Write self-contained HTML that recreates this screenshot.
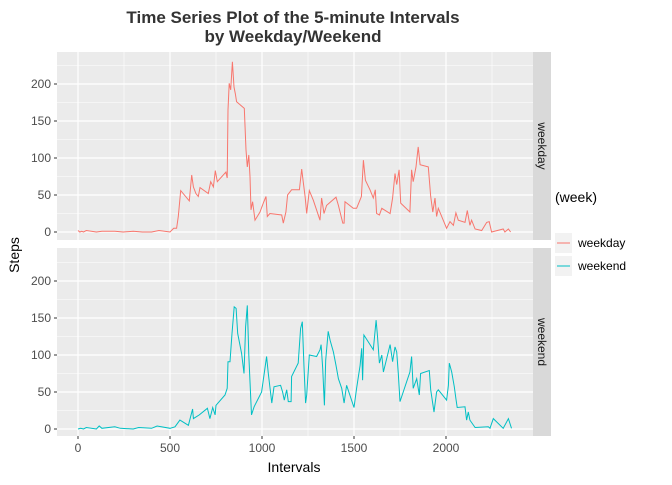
<!DOCTYPE html>
<html><head><meta charset="utf-8">
<style>
body{margin:0;background:#fff;font-family:"Liberation Sans",sans-serif;}
svg text{font-family:"Liberation Sans",sans-serif;}
</style></head>
<body>
<svg id="chart" width="672" height="480" xmlns="http://www.w3.org/2000/svg">
<text x="293" y="23" text-anchor="middle" font-size="17" font-weight="bold" fill="#333">Time Series Plot of the 5-minute Intervals</text>
<text x="293" y="42" text-anchor="middle" font-size="17" font-weight="bold" fill="#333">by Weekday/Weekend</text>
<text transform="translate(19,255) rotate(-90)" text-anchor="middle" font-size="14" fill="#000">Steps</text>
<text x="294" y="472" text-anchor="middle" font-size="14" fill="#000">Intervals</text>
<g id="panels"></g>
<g>
<text x="555" y="202" font-size="14" fill="#000">(week)</text>
<g>
<rect x="555" y="233" width="17" height="20" fill="#f2f2f2"/>
<line x1="557" y1="243" x2="570" y2="243" stroke="#F8766D" stroke-width="1"/>
<text x="578" y="247" font-size="12" fill="#000">weekday</text></g>
<g>
<rect x="555" y="256" width="17" height="20" fill="#f2f2f2"/>
<line x1="557" y1="266" x2="570" y2="266" stroke="#00BFC4" stroke-width="1"/>
<text x="578" y="270" font-size="12" fill="#000">weekend</text></g>
</g>
</svg>
<script>
const xTicks=[0,500,1000,1500,2000];
const yTicks=[0,50,100,150,200];
const panelNames=["weekday","weekend"];
const wdX=[0,10,20,30,45,100,130,200,245,300,350,400,440,500,520,536,545,558,605,618,627,641,654,663,708,721,736,746,757,804,811,815,822,830,839,848,855,862,904,913,920,928,935,940,949,962,989,1007,1022,1029,1043,1107,1116,1130,1139,1161,1203,1216,1225,1234,1243,1257,1279,1315,1324,1337,1351,1402,1415,1439,1446,1451,1496,1514,1529,1540,1551,1562,1587,1605,1616,1623,1638,1651,1696,1710,1723,1732,1745,1754,1804,1813,1822,1837,1849,1859,1904,1917,1928,1940,1949,1958,2003,2022,2040,2054,2067,2103,2116,2130,2139,2158,2194,2221,2235,2248,2311,2320,2339,2351];
const wdY=[2,0,1,0,2,0,1,1,0,1,0,0,2,0,5,5,21,56,42,77,61,52,48,60,52,68,61,83,68,81,73,165,201,192,230,196,187,176,167,111,88,104,75,30,41,16,27,39,48,21,25,23,12,27,50,57,57,85,66,48,25,56,43,16,46,25,36,47,36,12,12,41,32,32,41,48,97,70,57,46,57,25,23,32,25,46,79,64,84,39,27,84,68,88,115,91,88,48,27,46,21,32,5,14,9,26,16,13,29,9,16,4,2,13,14,0,4,0,4,0];
const weX=[0,15,30,45,100,115,130,200,230,300,330,400,430,500,527,554,600,623,627,659,703,717,732,745,750,799,811,815,826,837,849,859,868,889,902,911,920,928,943,957,998,1025,1034,1053,1065,1101,1112,1121,1134,1143,1158,1161,1197,1210,1219,1228,1237,1243,1257,1297,1315,1321,1330,1339,1346,1360,1370,1388,1402,1415,1433,1446,1460,1500,1514,1533,1542,1547,1554,1605,1620,1627,1638,1651,1660,1696,1710,1723,1732,1741,1750,1804,1813,1822,1841,1855,1862,1909,1917,1935,1949,1958,2003,2013,2018,2031,2045,2054,2061,2103,2112,2121,2130,2158,2230,2239,2257,2311,2339,2356];
const weY=[0,1,0,2,0,4,1,3,1,0,2,1,4,1,3,12,5,27,14,19,28,14,29,19,32,46,55,91,91,129,165,163,129,102,75,138,167,100,19,30,50,98,75,35,57,59,50,39,53,37,37,71,89,136,145,84,35,46,100,98,107,114,82,32,93,132,120,104,86,68,55,35,59,29,55,86,109,66,127,107,147,127,89,100,77,114,91,111,104,75,37,77,98,55,68,46,75,79,53,23,50,53,39,59,89,77,57,41,29,30,12,23,12,2,3,1,14,1,14,1];
const NS="http://www.w3.org/2000/svg";
const L=57,R=533;
const xS=v=>78+v*0.184;
const panels=[{top:52,bot:240,zero:232,x:wdX,y:wdY,c:"#F8766D"},{top:248,bot:436,zero:429,x:weX,y:weY,c:"#00BFC4"}];
const g=document.getElementById("panels");
function mk(t,a){const e=document.createElementNS(NS,t);for(const k in a)e.setAttribute(k,a[k]);return e;}
panels.forEach((p,i)=>{
  const yS=v=>p.zero-v*0.74;
  const pg=mk("g",{});
  
  
  pg.appendChild(mk("rect",{x:L,y:p.top,width:R-L,height:p.bot-p.top,fill:"#ebebeb"}));
  for(let k=0;k<yTicks.length;k++){
    const v=yTicks[k]+25,yy=yS(v);
    if(yy>p.top)pg.appendChild(mk("line",{x1:L,x2:R,y1:yy,y2:yy,stroke:"#fff","stroke-width":0.6}));
  }
  for(let k=0;k<xTicks.length;k++){
    const xx=xS(xTicks[k]+250);
    if(xx<R)pg.appendChild(mk("line",{x1:xx,x2:xx,y1:p.top,y2:p.bot,stroke:"#fff","stroke-width":0.6}));
  }
  yTicks.forEach(v=>{const yy=yS(v);
    pg.appendChild(mk("line",{x1:L,x2:R,y1:yy,y2:yy,stroke:"#fff","stroke-width":1.2}));
    pg.appendChild(mk("line",{x1:54,x2:57,y1:yy,y2:yy,stroke:"#333","stroke-width":1}));
    const t=mk("text",{x:51,y:yy+4,"text-anchor":"end","font-size":12,fill:"#4d4d4d"});
    
    
    t.textContent=v;pg.appendChild(t);});
  xTicks.forEach(v=>{const xx=xS(v);
    pg.appendChild(mk("line",{x1:xx,x2:xx,y1:p.top,y2:p.bot,stroke:"#fff","stroke-width":1.2}));});
  let d="";
  p.x.forEach((xv,j)=>{d+=(j?"L":"M")+xS(xv).toFixed(1)+","+yS(p.y[j]).toFixed(1);});
  const path=mk("path",{d:d,fill:"none",stroke:p.c,"stroke-width":1});
  
  
  pg.appendChild(path);
  const st=mk("rect",{x:R,y:p.top,width:18,height:p.bot-p.top,fill:"#d9d9d9"});
  
  
  pg.appendChild(st);
  const my=(p.top+p.bot)/2;
  const stt=mk("text",{transform:`translate(${R+5},${my}) rotate(90)`,"text-anchor":"middle","font-size":12,fill:"#1a1a1a"});
  
  
  stt.textContent=panelNames[i];pg.appendChild(stt);
  g.appendChild(pg);
});
xTicks.forEach(v=>{const xx=xS(v);
  g.appendChild(mk("line",{x1:xx,x2:xx,y1:436,y2:439,stroke:"#333","stroke-width":1}));
  const t=mk("text",{x:xx,y:452,"text-anchor":"middle","font-size":12,fill:"#4d4d4d"});
  
  
  t.textContent=v;g.appendChild(t);});
</script>
</body></html>
